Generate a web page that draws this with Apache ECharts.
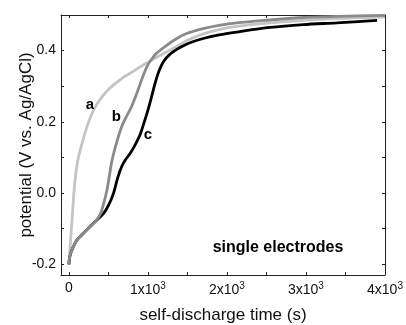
<!DOCTYPE html>
<html>
<head>
<meta charset="utf-8">
<script src="https://cdn.jsdelivr.net/npm/echarts@6/dist/echarts.min.js"></script>
<style>html,body{margin:0;padding:0;background:#fff}#c{width:406px;height:325px}</style>
</head>
<body>
<div id="c"></div>
<script>
// curve a (light gray): [time s, potential V]
var curveA = [[0,-0.2],[10,-0.17],[25,-0.12],[40,-0.075],[63,0.0],[90,0.06],[120,0.1],[165,0.139],[228,0.186],[312,0.233],[418,0.27],[520,0.295],[600,0.31],[688,0.325],[800,0.34],[900,0.354],[1000,0.367],[1110,0.381],[1200,0.392],[1300,0.404],[1405,0.417],[1500,0.429],[1700,0.447],[1900,0.459],[2122,0.468],[2544,0.478],[2966,0.485],[3388,0.49],[4000,0.495]];
// curve b (medium gray)
var curveB = [[0,-0.2],[10,-0.178],[38,-0.16],[101,-0.132],[206,-0.108],[333,-0.08],[396,-0.06],[439,-0.03],[481,0.008],[510,0.045],[544,0.09],[608,0.145],[671,0.188],[730,0.216],[794,0.243],[850,0.275],[899,0.305],[950,0.336],[1004,0.362],[1060,0.38],[1110,0.393],[1237,0.415],[1350,0.432],[1489,0.448],[1700,0.462],[1900,0.471],[2122,0.478],[2544,0.486],[2966,0.493],[3388,0.496],[4000,0.499]];
// curve c (black)
var curveC = [[0,-0.2],[10,-0.18],[38,-0.16],[101,-0.132],[206,-0.108],[333,-0.08],[439,-0.057],[502,-0.034],[565,0.0],[620,0.045],[671,0.076],[720,0.095],[770,0.11],[830,0.132],[899,0.163],[940,0.19],[990,0.225],[1040,0.265],[1090,0.308],[1140,0.343],[1200,0.37],[1270,0.388],[1370,0.404],[1450,0.414],[1532,0.422],[1700,0.434],[1900,0.444],[2122,0.452],[2544,0.465],[2966,0.473],[3388,0.478],[3900,0.485]];
var xTicks = [0,1000,2000,3000,4000];
var xMinor = [500,1500,2500,3500];
var yTicks = [-0.2,0.0,0.2,0.4];
var yMinor = [-0.1,0.1,0.3,0.5];
var curveLabels = ['a','b','c'];
var curveLabelPos = [[266,0.247],[600,0.215],[1000,0.163]];
var noteText = 'single electrodes';
var notePos = [2646,-0.154];

var chart = echarts.init(document.getElementById('c'), null, {renderer:'canvas'});
var F = 'Liberation Sans, Arial, sans-serif';
var allX = xTicks.concat(xMinor).sort(function(a,b){return a-b;});
var allY = yTicks.concat(yMinor).sort(function(a,b){return a-b;});
function xAx(pos, main){
  return {
    type:'value', position:pos, min:-100, max:4000,
    axisLine:{show:true, onZero:false, lineStyle:{color:'#222', width:1}},
    axisTick:{show:true, inside:true, length:3, customValues:allX, lineStyle:{color:'#222'}},
    axisLabel:main ? {show:true, customValues:xTicks, margin:6, fontFamily:F, fontSize:14, color:'#111',
      formatter:function(v){return v===0 ? '0' : '{n|'+(v/1000)+'x10}{s|3}';},
      rich:{n:{fontFamily:F, fontSize:14, color:'#111'}, s:{fontFamily:F, fontSize:10, color:'#111', padding:[0,0,8,0]}}} : {show:false},
    splitLine:{show:false},
    name: main ? 'self-discharge time (s)' : '', nameLocation:'middle', nameGap:32, nameMoveOverlap:false,
    nameTextStyle:{fontFamily:F, fontSize:17, color:'#111'}
  };
}
function yAx(pos, main){
  return {
    type:'value', position:pos, min:-0.23, max:0.5,
    axisLine:{show:true, onZero:false, lineStyle:{color:'#222', width:1}},
    axisTick:{show:true, inside:true, length:3, customValues:allY, lineStyle:{color:'#222'}},
    axisLabel:main ? {show:true, customValues:yTicks, margin:5, fontFamily:F, fontSize:14, color:'#111',
      formatter:function(v){return v.toFixed(1);}} : {show:false},
    splitLine:{show:false},
    name: main ? 'potential (V vs. Ag/AgCl)' : '', nameLocation:'middle', nameGap:26, nameMoveOverlap:false,
    nameTextStyle:{fontFamily:F, fontSize:17, color:'#111'}
  };
}
function lineSeries(data, color){
  return {type:'line', data:data, showSymbol:false, symbol:'none', smooth:0.3,
    lineStyle:{color:color, width:2.8}, xAxisIndex:0, yAxisIndex:0, z:2};
}
chart.setOption({
  animation:false,
  backgroundColor:'#fff',
  grid:{left:61, right:21, top:15, bottom:50, containLabel:false, outerBoundsMode:'none'},
  xAxis:[xAx('bottom', true), xAx('top', false)],
  yAxis:[yAx('left', true), yAx('right', false)],
  series:[
    lineSeries(curveA, '#c4c4c4'),
    lineSeries(curveC, '#000000'),
    lineSeries(curveB, '#8a8a8a'),
    {type:'scatter', symbolSize:0, xAxisIndex:0, yAxisIndex:0, silent:true, itemStyle:{opacity:1},
      data:curveLabels.map(function(t,i){return {value:curveLabelPos[i], name:t};}),
      label:{show:true, position:'inside', formatter:'{b}', fontFamily:F, fontWeight:'bold', fontSize:15, color:'#000', opacity:1}},
    {type:'scatter', symbolSize:0, xAxisIndex:0, yAxisIndex:0, silent:true, itemStyle:{opacity:1},
      data:[{value:notePos, name:noteText}],
      label:{show:true, position:'inside', formatter:'{b}', fontFamily:F, fontWeight:'bold', fontSize:16, color:'#000', opacity:1}}
  ]
});
</script>
</body>
</html>
